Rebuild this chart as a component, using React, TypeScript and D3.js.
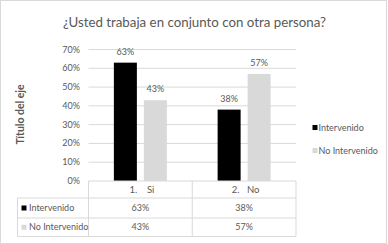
import React from "react";
import * as d3 from "d3";

const title = "¿Usted trabaja en conjunto con otra persona?";
const yAxisTitle = "Título del eje";
const categories = ["1.    Si", "2.   No"];
const seriesNames = ["Intervenido", "No Intervenido"];
const intervenido = [0.63, 0.38];
const noIntervenido = [0.43, 0.57];
const seriesColors = ["#000000", "#d9d9d9"];
const yTicks = [0, 0.1, 0.2, 0.3, 0.4, 0.5, 0.6, 0.7];

const W = 388;
const H = 244;
const FONT = "Lato, Carlito, 'Liberation Sans', sans-serif";
const TXT = "#595959";
const GRID = "#d9d9d9";

export default function App() {
  const series = [intervenido, noIntervenido];
  const plotL = 88.5;
  const plotR = 296;
  const colMid = (plotL + plotR) / 2;
  const tableL = 17.5;
  const rowY = [181, 198, 218, 236.5];

  const y = d3.scaleLinear().domain([0, 0.7]).range([181, 49.5]);
  const x0 = d3.scaleBand<string>().domain(categories).range([plotL, plotR]);
  const groupW = 53;
  const x1 = d3
    .scaleBand<string>()
    .domain(seriesNames)
    .range([0, groupW])
    .paddingInner(0.2333);
  const pct = d3.format(".0%");

  return (
    <svg
      width={W}
      height={H}
      style={{ position: "fixed", left: 0, top: 0, fontFamily: FONT }}
    >
      <rect x={0} y={0} width={W} height={H} fill="#fff" />
      <rect x={0.5} y={0.5} width={386} height={243} fill="none" stroke={GRID} />
      <text x={194.5} y={27} textAnchor="middle" fontSize={13.3} fill={TXT}>
        {title}
      </text>
      <text
        transform={`translate(24,${114.5}) rotate(-90)`}
        textAnchor="middle"
        fontSize={10.5}
        fontWeight="bold"
        fill={TXT}
      >
        {yAxisTitle}
      </text>
      {yTicks.map((t) => (
        <g key={t}>
          {t > 0 && (
            <line x1={plotL} x2={plotR} y1={y(t)} y2={y(t)} stroke={GRID} />
          )}
          <text
            x={80}
            y={y(t) + 3}
            textAnchor="end"
            fontSize={9}
            fill={TXT}
          >
            {pct(t)}
          </text>
        </g>
      ))}
      {categories.map((c, ci) => {
        const gx = (x0(c) as number) + (x0.bandwidth() - groupW) / 2;
        return (
          <g key={c}>
            {seriesNames.map((s, si) => {
              const v = series[si][ci];
              const bx = gx + (x1(s) as number);
              return (
                <g key={s}>
                  <rect
                    x={bx}
                    y={y(v)}
                    width={x1.bandwidth()}
                    height={y(0) - y(v)}
                    fill={seriesColors[si]}
                  />
                  <text
                    x={bx + x1.bandwidth() / 2}
                    y={y(v) - 8}
                    textAnchor="middle"
                    fontSize={9}
                    fill={TXT}
                  >
                    {pct(v)}
                  </text>
                </g>
              );
            })}
          </g>
        );
      })}
      {/* data table */}
      <g stroke={GRID} fill="none">
        <line x1={plotL} x2={plotR} y1={rowY[0]} y2={rowY[0]} />
        <line x1={tableL} x2={plotR} y1={rowY[1]} y2={rowY[1]} />
        <line x1={tableL} x2={plotR} y1={rowY[2]} y2={rowY[2]} />
        <line x1={tableL} x2={plotR} y1={rowY[3]} y2={rowY[3]} />
        <line x1={tableL} x2={tableL} y1={rowY[1]} y2={rowY[3]} />
        <line x1={plotL} x2={plotL} y1={rowY[0]} y2={rowY[3]} />
        <line x1={colMid} x2={colMid} y1={rowY[0]} y2={rowY[3]} />
        <line x1={plotR} x2={plotR} y1={rowY[0]} y2={rowY[3]} />
      </g>
      {categories.map((c) => (
        <text
          key={c}
          x={(x0(c) as number) + x0.bandwidth() / 2 + 1.5}
          y={(rowY[0] + rowY[1]) / 2 + 3.3}
          textAnchor="middle"
          fontSize={9.5}
          fill={TXT}
          style={{ whiteSpace: "pre" }}
        >
          {c}
        </text>
      ))}
      {seriesNames.map((s, si) => {
        const cy = (rowY[si + 1] + rowY[si + 2]) / 2;
        return (
          <g key={s}>
            <rect x={21.5} y={cy - 2.5} width={5} height={5} fill={seriesColors[si]} />
            <text x={29} y={cy + 3.2} fontSize={9} fill={TXT}>
              {s}
            </text>
            {categories.map((c, ci) => (
              <text
                key={c}
                x={(x0(c) as number) + x0.bandwidth() / 2}
                y={cy + 3.2}
                textAnchor="middle"
                fontSize={9}
                fill={TXT}
              >
                {pct(series[si][ci])}
              </text>
            ))}
          </g>
        );
      })}
      {/* legend */}
      {seriesNames.map((s, si) => {
        const ly = 127.5 + si * 23;
        return (
          <g key={s}>
            <rect x={312.5} y={ly - 2.5} width={5} height={5} fill={seriesColors[si]} />
            <text x={318.5} y={ly + 3.2} fontSize={9} fill={TXT}>
              {s}
            </text>
          </g>
        );
      })}
    </svg>
  );
}
